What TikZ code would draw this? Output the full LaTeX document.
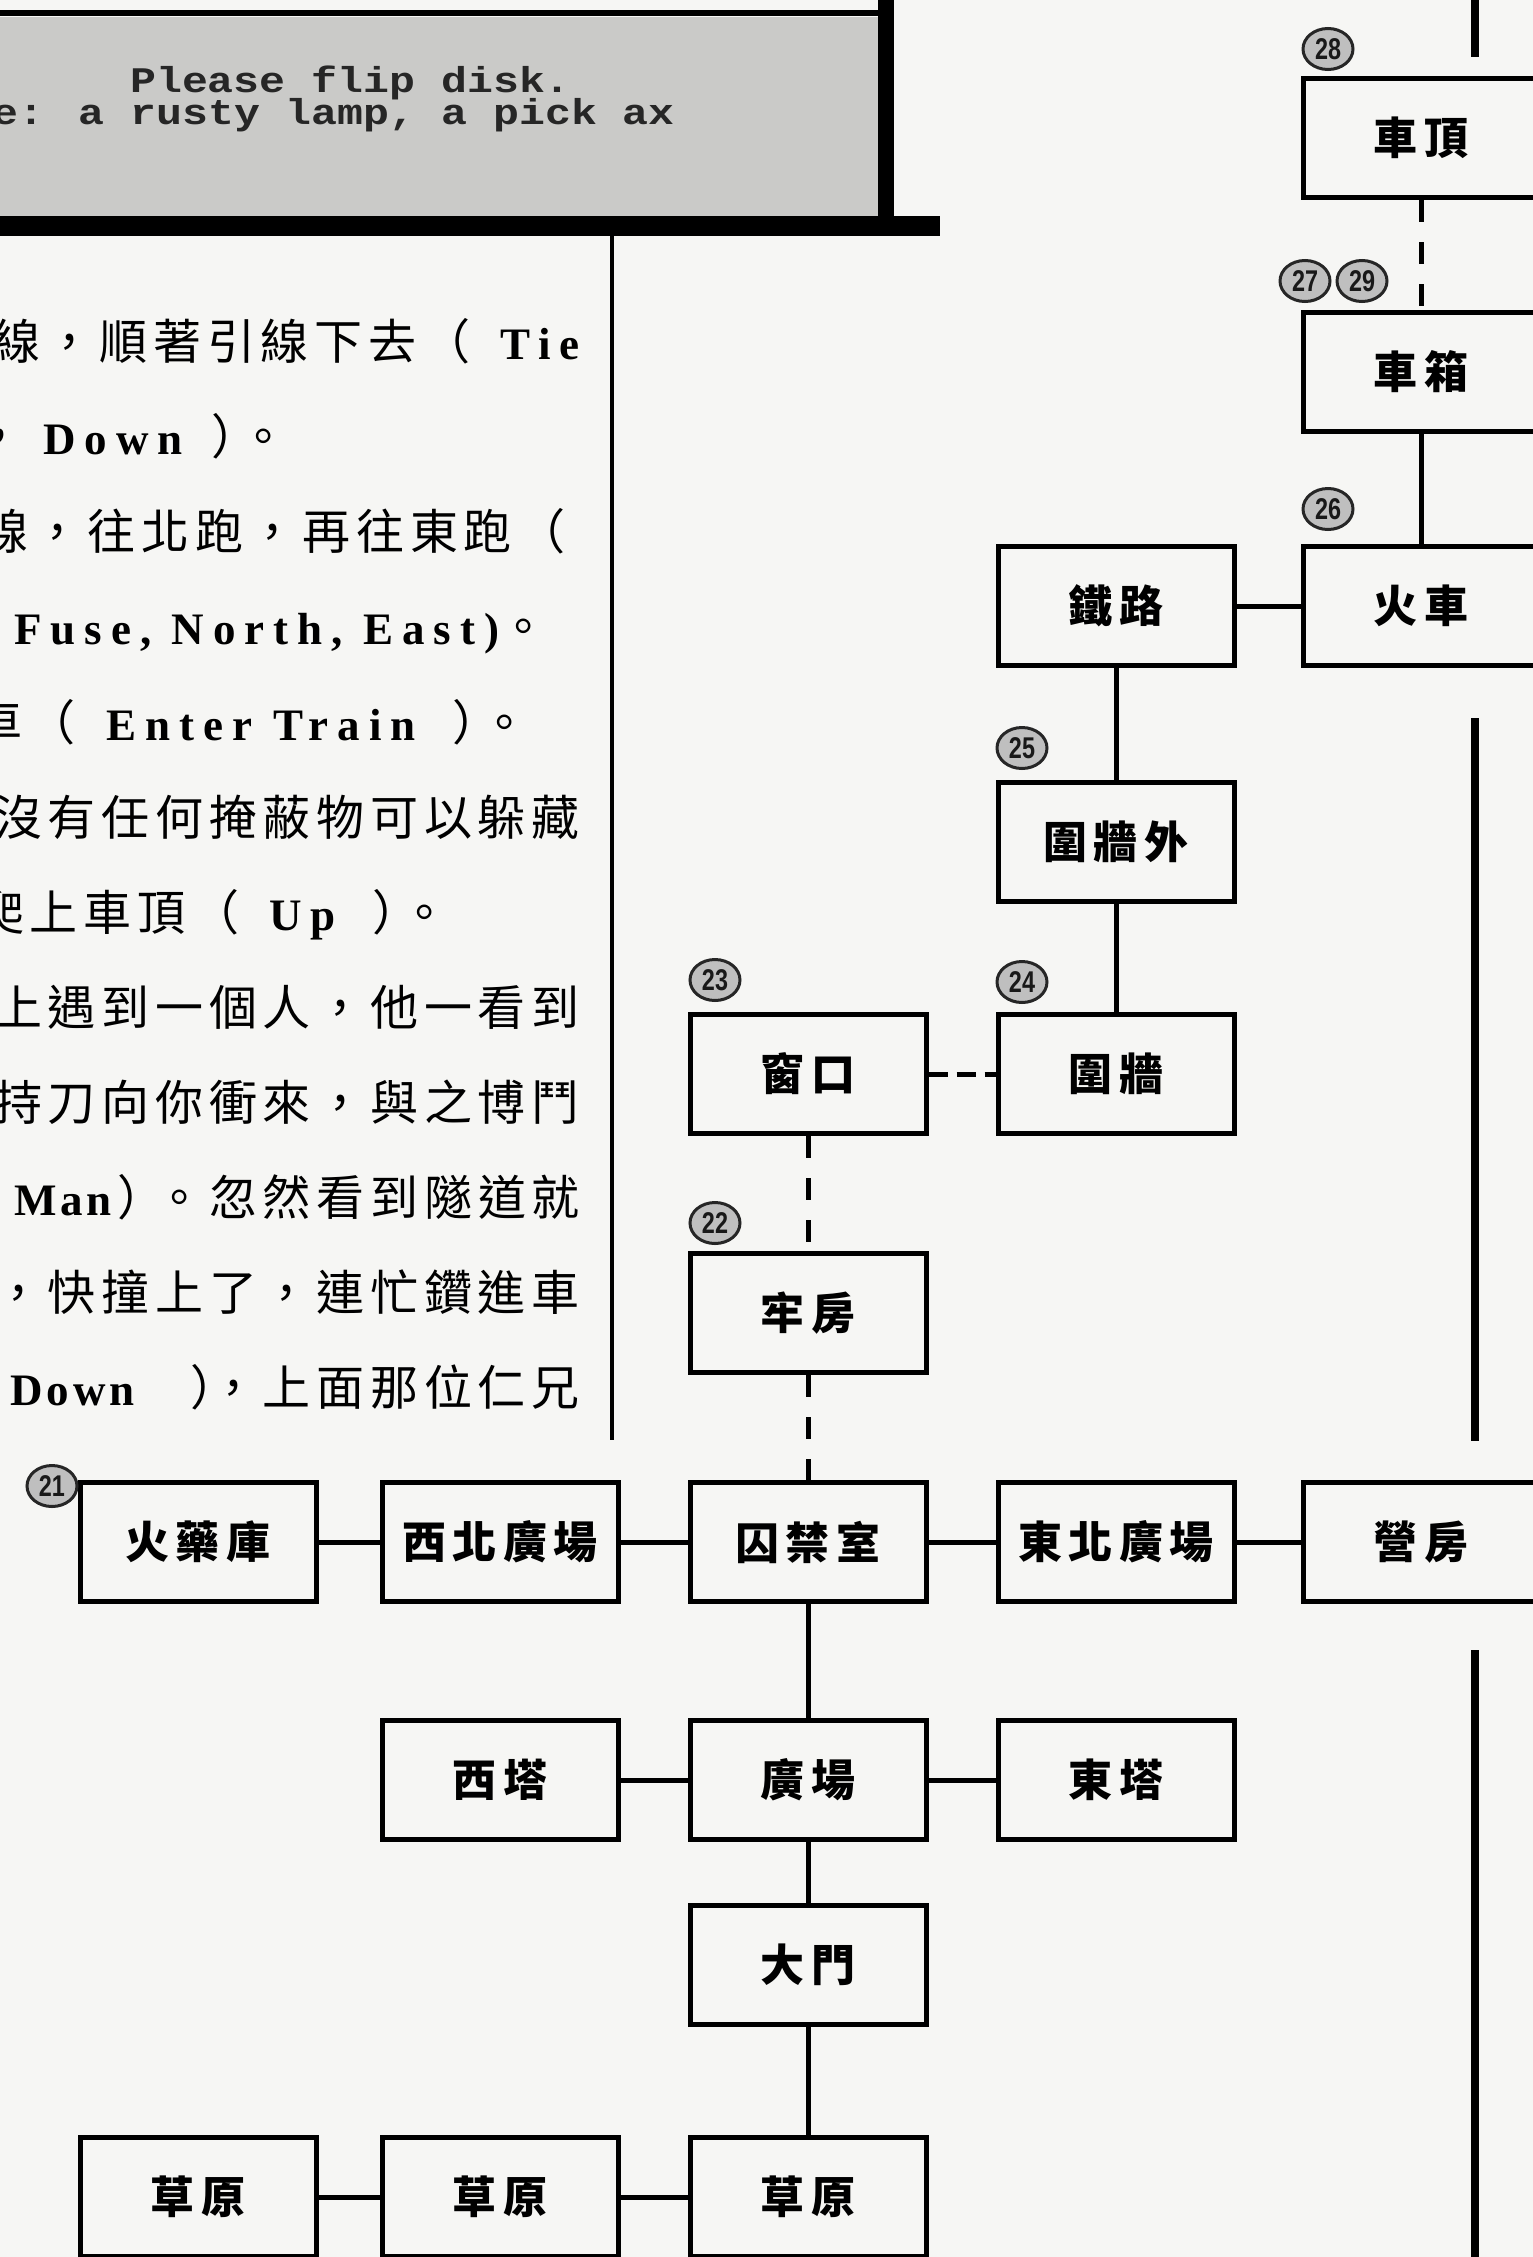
\documentclass[tikz,border=0pt]{standalone}
\usepackage{fontspec}
\usetikzlibrary{shapes.geometric}
\newfontfamily\cjtext{Noto Sans CJK TC}[LetterSpace=12]
\newfontfamily\cjbox{Noto Sans CJK TC}[LetterSpace=14]
\newfontfamily\lttext{Liberation Serif}[LetterSpace=20]
\newfontfamily\lttextn{Liberation Serif}[LetterSpace=8]
\newfontfamily\monotext{Liberation Mono}
\newfontfamily\numfont{Liberation Sans}
\newcommand\Cj[1]{{\cjtext #1}}
\newcommand\Lt[1]{{\lttext\bfseries\fontsize{45}{50}\selectfont #1}}
\newcommand\Ltn[1]{{\lttextn\bfseries\fontsize{45}{50}\selectfont #1}}
\newcommand\ClosePeriod{\Cj{）}\kern-20pt\Cj{。}}
\definecolor{bgc}{RGB}{246,246,244}
\definecolor{scr}{RGB}{202,202,200}
\tikzset{
  room/.style={draw=black, line width=5pt, fill=bgc, minimum width=236pt, minimum height=119pt, inner sep=0pt,
    font=\cjbox\bfseries\fontsize{44}{46}\selectfont},
  link/.style={line width=5pt},
  dlink/.style={line width=5pt, dash pattern=on 22pt off 20pt},
  hdlink/.style={line width=5pt, dash pattern=on 19pt off 9pt},
  edge/.style={line width=8pt},
  num/.style={ellipse, draw=black!85, fill=black!25, line width=3pt, minimum width=50pt, minimum height=41pt, inner sep=0pt,
    font=\numfont\bfseries\fontsize{30}{30}\selectfont, text=black!90},
  txt/.style={inner sep=0pt, font=\fontsize{48}{50}\selectfont},
  scrtxt/.style={inner sep=0pt, anchor=base west, font=\monotext\bfseries\fontsize{36}{36}\selectfont, text=black!85}
}
\begin{document}
\begin{tikzpicture}[x=1pt,y=-1pt]
\useasboundingbox (0,0) rectangle (1533,2257);
\clip (0,0) rectangle (1533,2257);
\fill[bgc] (0,0) rectangle (1533,2257);

% screen shot
\fill[scr] (0,17) rectangle (880,216);
\draw[line width=6pt] (0,13) -- (880,13);
\draw[line width=16pt] (886,0) -- (886,226);
\draw[line width=20pt] (0,226) -- (940,226);
\node[scrtxt] (s1) at (130,92) {\scalebox{1.2}[1]{Please flip disk.}};
\node[scrtxt] (s2) at (-8,124) {\scalebox{1.2}[1]{e: a rusty lamp, a pick ax}};

% divider
\coordinate (dv1) at (612,236);
\coordinate (dv2) at (612,1440);
\draw[line width=3.5pt] (dv1) -- (dv2);

% text column
\node[txt, anchor=base east] (t1) at (580,359.6) {\Cj{線，順著引線下去（}\hspace{30pt}\Lt{Tie}};
\node[txt, anchor=base west] (t2) at (-25,454.7) {\Cj{，}\hspace{20pt}\Lt{Down}\hspace{29pt}\ClosePeriod};
\node[txt, anchor=base east] (t3) at (566,549.8) {\Cj{線，往北跑，再往東跑（}};
\node[txt, anchor=base west] (t4) at (14,644.9) {\Lt{Fuse, North, East)}\Cj{。}};
\node[txt, anchor=base west] (t5) at (-26,740.0) {\Cj{車（}\hspace{31pt}\Lt{Enter Train}\hspace{37pt}\ClosePeriod};
\node[txt, anchor=base east] (t6) at (580,835.1) {\Cj{沒有任何掩蔽物可以躲藏}};
\node[txt, anchor=base west] (t7) at (-24,930.2) {\Cj{爬上車頂（}\hspace{30pt}\Lt{Up}\hspace{37pt}\ClosePeriod};
\node[txt, anchor=base east] (t8) at (580,1025.3) {\Cj{上遇到一個人，他一看到}};
\node[txt, anchor=base east] (t9) at (580,1120.4) {\Cj{持刀向你衝來，與之博鬥}};
\node[txt, anchor=base east] (t10) at (580,1215.5) {\Ltn{Man}\hspace{6pt}\Cj{）}\kern-10pt\Cj{。忽然看到隧道就}};
\node[txt, anchor=base east] (t11) at (580,1310.6) {\Cj{，快撞上了，連忙鑽進車}};
\node[txt, anchor=base east] (t12) at (580,1405.7) {\Ltn{Down}\hspace{56pt}\Cj{）}\kern-29pt\Cj{，上面那位仁兄}};

% rooms
\node[room] (chedding) at (1421,138) {車頂};
\node[room] (chexiang) at (1421,371.5) {車箱};
\node[room] (huoche) at (1421,606) {火車};
\node[room] (tielu) at (1116,606) {鐵路};
\node[room] (weiqiangwai) at (1116,842) {圍牆外};
\node[room] (weiqiang) at (1116,1074) {圍牆};
\node[room] (chuangkou) at (808,1074) {窗口};
\node[room] (laofang) at (808,1313) {牢房};
\node[room] (huoyaoku) at (198,1542) {火藥庫};
\node[room] (xibei) at (500,1542) {西北廣場};
\node[room] (qiujin) at (808,1542) {囚禁室};
\node[room] (dongbei) at (1116,1542) {東北廣場};
\node[room] (yingfang) at (1421,1542) {營房};
\node[room] (xita) at (500,1780) {西塔};
\node[room] (guangchang) at (808,1780) {廣場};
\node[room] (dongta) at (1116,1780) {東塔};
\node[room] (damen) at (808,1965) {大門};
\node[room] (caoyuan1) at (198,2197) {草原};
\node[room] (caoyuan2) at (500,2197) {草原};
\node[room] (caoyuan3) at (808,2197) {草原};

% connectors
\draw[dlink] (chedding) -- (chexiang);
\draw[link] (chexiang) -- (huoche);
\draw[link] (tielu) -- (huoche);
\draw[link] (tielu) -- (weiqiangwai);
\draw[link] (weiqiangwai) -- (weiqiang);
\draw[hdlink] (chuangkou) -- (weiqiang);
\draw[dlink] (chuangkou) -- (laofang);
\draw[dlink] (laofang) -- (qiujin);
\draw[link] (huoyaoku) -- (xibei);
\draw[link] (xibei) -- (qiujin);
\draw[link] (qiujin) -- (dongbei);
\draw[link] (dongbei) -- (yingfang);
\draw[link] (qiujin) -- (guangchang);
\draw[link] (xita) -- (guangchang);
\draw[link] (guangchang) -- (dongta);
\draw[link] (guangchang) -- (damen);
\draw[link] (damen) -- (caoyuan3);
\draw[link] (caoyuan1) -- (caoyuan2);
\draw[link] (caoyuan2) -- (caoyuan3);

% right edge lines
\coordinate (r1a) at (1475,0);
\coordinate (r1b) at (1475,57);
\coordinate (r2a) at (1475,718);
\coordinate (r2b) at (1475,1441);
\coordinate (r3a) at (1475,1650);
\coordinate (r3b) at (1475,2262);
\draw[edge] (r1a) -- (r1b);
\draw[edge] (r2a) -- (r2b);
\draw[edge] (r3a) -- (r3b);

% step numbers
\node[num] (n21) at (52,1486) {\scalebox{0.78}[1]{21}};
\node[num] (n22) at (715,1223) {\scalebox{0.78}[1]{22}};
\node[num] (n23) at (715,980) {\scalebox{0.78}[1]{23}};
\node[num] (n24) at (1022,982) {\scalebox{0.78}[1]{24}};
\node[num] (n25) at (1022,748) {\scalebox{0.78}[1]{25}};
\node[num] (n26) at (1328,509) {\scalebox{0.78}[1]{26}};
\node[num] (n27) at (1305,281) {\scalebox{0.78}[1]{27}};
\node[num] (n29) at (1362,281) {\scalebox{0.78}[1]{29}};
\node[num] (n28) at (1328,49) {\scalebox{0.78}[1]{28}};
\end{tikzpicture}
\end{document}
